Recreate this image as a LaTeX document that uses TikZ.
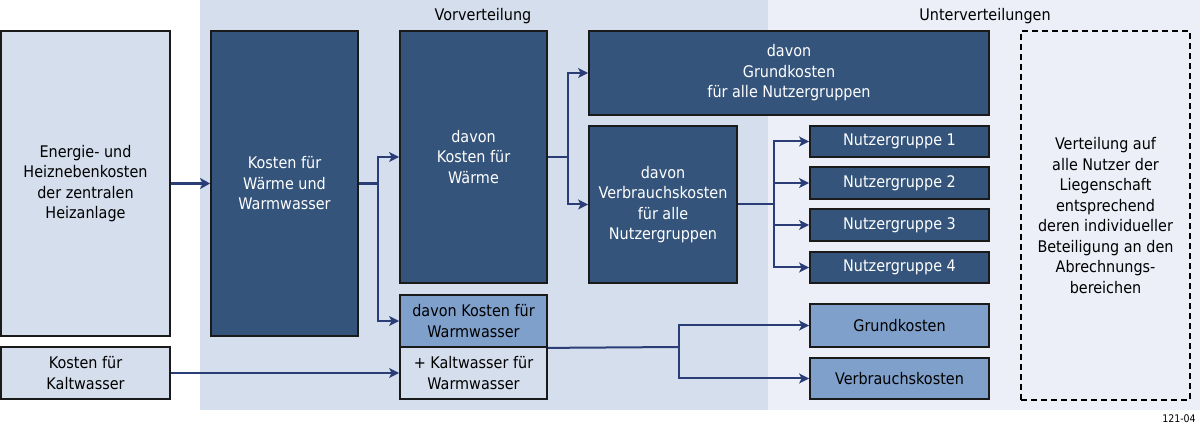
\documentclass[tikz,border=0pt]{standalone}
\usepackage{fontspec}
\setmainfont{DejaVu Sans}[FakeStretch=0.9]
\usetikzlibrary{arrows.meta,calc}
\definecolor{darkfill}{HTML}{34547B}
\definecolor{medfill}{HTML}{7FA0CB}
\definecolor{lightfill}{HTML}{D4DEEC}
\definecolor{palefill}{HTML}{ECEFF8}
\definecolor{conncol}{HTML}{2A3D77}
\definecolor{bordcol}{HTML}{1A1A1A}
\begin{document}
\begin{tikzpicture}[x=1pt,y=-1pt,
  box/.style={draw=bordcol, line width=1.8pt, inner sep=0pt, align=center,
    font=\fontsize{16}{20.5}\selectfont},
  darkbox/.style={box, fill=darkfill, text=white},
  medbox/.style={box, fill=medfill, text=black},
  lightbox/.style={box, fill=lightfill, text=black},
  dashbox/.style={box, draw=black, dashed, dash pattern=on 6pt off 4pt, fill=none},
  wire/.style={draw=conncol, line width=2pt},
  thickwire/.style={draw=conncol, line width=3.5pt},
  link/.style={wire, -{Stealth[length=10pt,width=10pt,inset=2.5pt]}},
  thicklink/.style={thickwire, -{Stealth[length=10pt,width=11pt,inset=2.5pt]}},
  title/.style={font=\fontsize{16}{18}\selectfont, text=black},
]
\useasboundingbox (0,0) rectangle (1200,427);
\fill[white] (0,0) rectangle (1200,427);
% panels
\fill[lightfill] (200,0) rectangle (768,410);
\fill[palefill] (768,0) rectangle (1200,410);
\node[title] (tv) at (483,16) {Vorverteilung};
\node[title] (tu) at (985,16) {Unterverteilungen};
\node[font=\fontsize{10.5}{12}\selectfont] (code) at (1179,419) {121-04};

% boxes
\node[lightbox, minimum width=169, minimum height=305] (energie) at (85.5,183.5)
  {Energie- und\\Heiznebenkosten\\der zentralen\\Heizanlage};
\node[lightbox, minimum width=169, minimum height=52] (kalt) at (85.5,373)
  {Kosten für\\Kaltwasser};
\node[darkbox, minimum width=147, minimum height=305] (kww) at (284.5,183.5)
  {Kosten für\\Wärme und\\Warmwasser};
\node[darkbox, minimum width=147, minimum height=252] (dw) at (473.5,157)
  {davon\\Kosten für\\Wärme};
\node[medbox, minimum width=147, minimum height=52] (ww) at (473.5,321)
  {davon Kosten für\\Warmwasser};
\node[lightbox, minimum width=147, minimum height=52] (kw) at (473.5,373)
  {+ Kaltwasser für\\Warmwasser};
\node[darkbox, minimum width=400, minimum height=84] (gk) at (789,73)
  {davon\\Grundkosten\\für alle Nutzergruppen};
\node[darkbox, minimum width=148, minimum height=157] (vk) at (663,204.5)
  {davon\\Verbrauchskosten\\für alle\\Nutzergruppen};
\node[darkbox, minimum width=179, minimum height=31] (ng1) at (899.5,141.5) {Nutzergruppe 1};
\node[darkbox, minimum width=179, minimum height=32] (ng2) at (899.5,183) {Nutzergruppe 2};
\node[darkbox, minimum width=179, minimum height=32] (ng3) at (899.5,225) {Nutzergruppe 3};
\node[darkbox, minimum width=179, minimum height=31] (ng4) at (899.5,267.5) {Nutzergruppe 4};
\node[medbox, minimum width=179, minimum height=43] (grund) at (899.5,325.5) {Grundkosten};
\node[medbox, minimum width=179, minimum height=41] (verb) at (899.5,378.5) {Verbrauchskosten};
\node[dashbox, minimum width=169, minimum height=369] (vert) at (1105.5,215.5)
  {Verteilung auf\\alle Nutzer der\\Liegenschaft\\entsprechend\\deren individueller\\Beteiligung an den\\Abrechnungs-\\bereichen};

% junctions
\coordinate (j1) at (378,183.5);
\coordinate (j2) at (568,157);
\coordinate (j3) at (774,204.5);
\coordinate (j4) at (679,347);

% connectors
\draw[thicklink] (energie.east) -- (kww.west);
\draw[thickwire] (kww.east) -- (j1);
\draw[link] (j1) |- (dw.west);
\draw[link] (j1) |- (ww.west);
\draw[link] (kalt.east) -- (kw.west);
\draw[wire] (dw.east) -- (j2);
\draw[link] (j2) |- (gk.west);
\draw[link] (j2) |- (vk.west);
\draw[wire] (vk.east) -- (j3);
\draw[link] (j3) |- (ng1.west);
\draw[link] (j3) |- (ng2.west);
\draw[link] (j3) |- (ng3.west);
\draw[link] (j3) |- (ng4.west);
\draw[wire] (ww.south east) -- (j4);
\draw[link] (j4) |- (grund.west);
\draw[link] (j4) |- (verb.west);
\end{tikzpicture}
\end{document}
